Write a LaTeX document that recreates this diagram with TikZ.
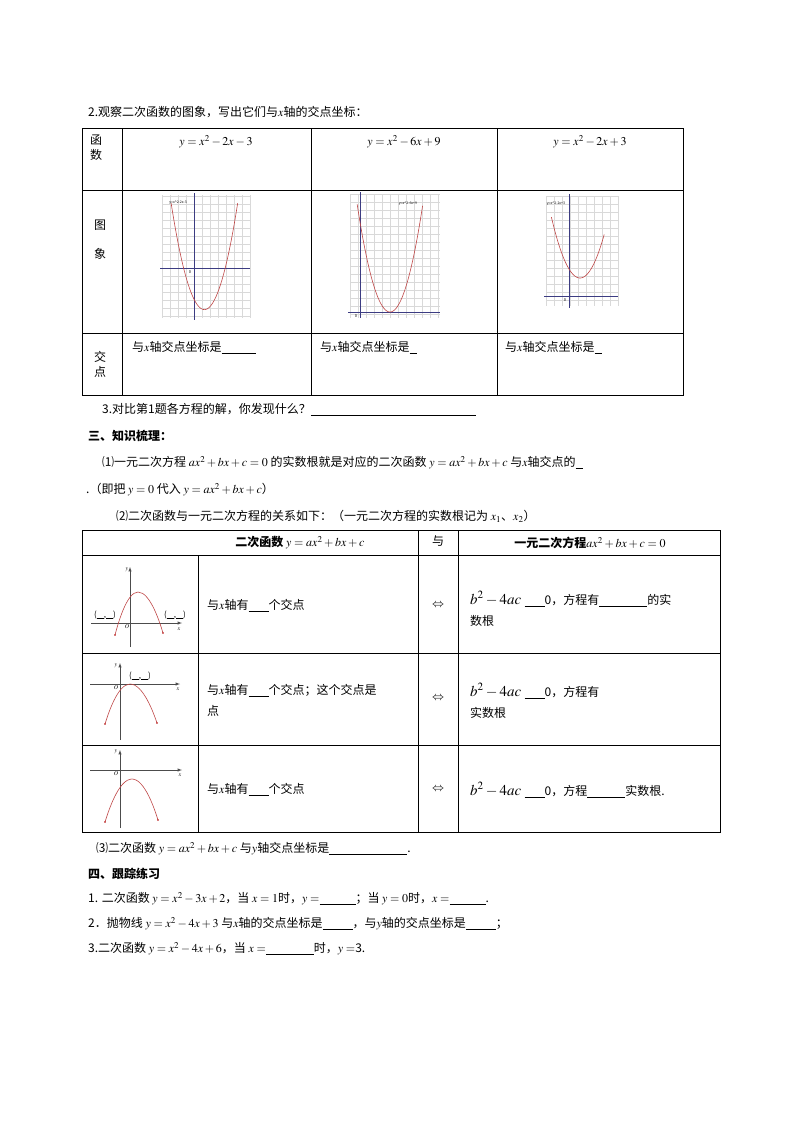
\documentclass[12pt,tikz,border=0pt]{standalone}
\usepackage{mathptmx}
\usepackage{fontspec}
\setmainfont{Noto Sans CJK SC}
\newcommand\blank[1]{\underline{\hspace{#1}}}
\newcommand\mygrid[3]{\foreach \gx in {#1} {\draw[gridl] (\gx,#2) -- (\gx,#3);}}
\newcommand\mygridh[3]{\foreach \gy in {#3} {\draw[gridl] (#1,\gy) -- (#2,\gy);}}
\begin{document}
\begin{tikzpicture}[x=1pt,y=-1pt,
  every node/.style={inner sep=0pt,font=\fontsize{12}{15}\selectfont},
  txt/.style={anchor=west},
  tb/.style={line width=0.8pt},
  pcurve/.style={draw={rgb,255:red,190;green,70;blue,70},line width=0.6pt},
  gridl/.style={draw=black!15,line width=0.3pt},
  ax/.style={draw={rgb,255:red,60;green,60;blue,130},line width=0.7pt},
  sax/.style={draw=black!70,line width=0.5pt,-latex}]
\useasboundingbox (0,0) rectangle (800,1130);
% ---- part 2
\node[txt] (t2) at (88,112) {2.观察二次函数的图象，写出它们与$x$轴的交点坐标：};
\draw[tb] (82,128) rectangle (683,395);
\draw[tb] (82,190) -- (683,190) (82,333) -- (683,333);
\draw[tb] (122,128) -- (122,395) (311,128) -- (311,395) (497,128) -- (497,395);
\node[align=center] (h1) at (96,148) {函\\数};
\node[align=center] (h2) at (100,240) {图\\[14pt]象};
\node[align=center] (h3) at (100,364) {交\\点};
\node (f1) at (216,142) {$y=x^2-2x-3$};
\node (f2) at (404,142) {$y=x^2-6x+9$};
\node (f3) at (590,142) {$y=x^2-2x+3$};
\node[txt] (r1) at (132,348) {与$x$轴交点坐标是\blank{34pt}};
\node[txt] (r2) at (320,348) {与$x$轴交点坐标是\blank{7pt}};
\node[txt] (r3) at (505,348) {与$x$轴交点坐标是\blank{7pt}};
% graph 1
\mygrid{162,170,...,250}{195}{318}
\mygridh{162}{250}{196,204,...,318}
\draw[ax] (160,268) -- (250,268) (194,193) -- (194,320);
\node[font=\fontsize{3.5}{4}\selectfont] (l1) at (178,203) {y=x\textasciicircum2-2x-3};
\node[font=\fontsize{4}{4}\selectfont] at (190,272) {0};
\draw[pcurve] plot[domain=-2.2:4.2,samples=60] ({194+10.4*\x},{268-10.4*((\x-1)^2-4)});
% graph 2
\mygrid{350,358,...,440}{194}{318}
\mygridh{350}{440}{194,202,...,318}
\draw[ax] (348,312) -- (440,312) (360,192) -- (360,318);
\node[font=\fontsize{3.5}{4}\selectfont] (l2) at (408,204) {y=x\textasciicircum2-6x+9};
\node[font=\fontsize{4}{4}\selectfont] at (356,316) {0};
\draw[pcurve] plot[domain=-0.28:6.26,samples=60] ({360+10*\x},{312-10*((\x-3)^2)});
% graph 3
\mygrid{546,554,...,618}{196}{306}
\mygridh{546}{618}{196,204,...,306}
\draw[ax] (544,296) -- (618,296) (569,194) -- (569,308);
\node[font=\fontsize{3.5}{4}\selectfont] (l3) at (556,204) {y=x\textasciicircum2-2x+3};
\node[font=\fontsize{4}{4}\selectfont] at (565,300) {0};
\draw[pcurve] plot[domain=-1.6:3.2,samples=60] ({569+11*\x},{296-9*((\x-1)^2+2)});
% ---- text
\node[txt] (q3) at (102,410) {3.对比第1题各方程的解，你发现什么？\blank{165pt}};
\node[txt,font=\fontsize{12}{15}\selectfont\bfseries] (s3) at (88,436) {三、知识梳理：};
\node[txt] (k1) at (102,463) {⑴一元二次方程 $ax^2+bx+c=0$ 的实数根就是对应的二次函数 $y=ax^2+bx+c$ 与$x$轴交点的\blank{7pt}};
\node[txt] (k1b) at (86,490) {.（即把 $y=0$ 代入 $y=ax^2+bx+c$）};
\node[txt] (k2) at (116,516) {⑵二次函数与一元二次方程的关系如下：（一元二次方程的实数根记为 $x_1$、$x_2$）};
% ---- table 2
\draw[tb] (82,530) rectangle (720,832);
\draw[tb] (82,555) -- (720,555) (82,653) -- (720,653) (82,745) -- (720,745);
\draw[tb] (198,555) -- (198,832) (418,530) -- (418,832) (458,530) -- (458,832);
\node (th1) at (300,543) {\textbf{二次函数} $y=ax^2+bx+c$};
\node (th2) at (438,541) {与};
\node (th3) at (590,543) {\textbf{一元二次方程}$ax^2+bx+c=0$};
% row 1
\draw[sax] (91,623) -- (182,623);
\draw[sax] (130,647) -- (130,567);
\draw[pcurve] (115,635) parabola bend (138,592) (163,633);
\fill[red!70!black] (115,635) circle (0.8) (163,633) circle (0.8);
\node[font=\tiny] at (127,570) {$y$};
\node[font=\tiny] at (179,629) {$x$};
\node[font=\tiny] at (127,627) {$O$};
\node[font=\scriptsize] (p1) at (105,615) {(\blank{7pt},\blank{7pt})};
\node[font=\scriptsize] (p2) at (175,615) {(\blank{7pt},\blank{7pt})};
\node[txt] (c1) at (207,606) {与$x$轴有\blank{20pt}个交点};
\node (e1) at (438,605) {$\Leftrightarrow$};
\node[txt] (d1) at (470,599) {\fontsize{15}{15}\selectfont$b^2-4ac$ \fontsize{12}{15}\selectfont\blank{20pt}0，方程有\blank{48pt}的实};
\node[txt] (d1b) at (470,621) {数根};
% row 2
\draw[sax] (90,684) -- (180,684);
\draw[sax] (120,740) -- (120,663);
\draw[pcurve] (105,724) parabola bend (130,684) (157,723);
\fill[red!70!black] (105,724) circle (0.8) (157,723) circle (0.8);
\node[font=\tiny] at (116,666) {$y$};
\node[font=\tiny] at (178,689) {$x$};
\node[font=\tiny] at (116,688) {$O$};
\node[font=\scriptsize] (p3) at (140,676) {(\blank{7pt},\blank{7pt})};
\node[txt] (c2) at (207,691) {与$x$轴有\blank{20pt}个交点；这个交点是};
\node[txt] (c2b) at (207,711) {点};
\node (e2) at (438,698) {$\Leftrightarrow$};
\node[txt] (d2) at (470,691) {\fontsize{15}{15}\selectfont$b^2-4ac$ \fontsize{12}{15}\selectfont\blank{20pt}0，方程有};
\node[txt] (d2b) at (470,713) {实数根};
% row 3
\draw[sax] (90,770) -- (182,770);
\draw[sax] (120,828) -- (120,750);
\draw[pcurve] (105,822) parabola bend (132,779) (158,820);
\fill[red!70!black] (105,822) circle (0.8) (158,820) circle (0.8);
\node[font=\tiny] at (116,752) {$y$};
\node[font=\tiny] at (180,775) {$x$};
\node[font=\tiny] at (116,774) {$O$};
\node[txt] (c3) at (207,790) {与$x$轴有\blank{20pt}个交点};
\node (e3) at (438,789) {$\Leftrightarrow$};
\node[txt] (d3) at (470,790) {\fontsize{15}{15}\selectfont$b^2-4ac$ \fontsize{12}{15}\selectfont\blank{20pt}0，方程\blank{38pt}实数根.};
% ---- rest
\node[txt] (k3) at (96,849) {⑶二次函数 $y=ax^2+bx+c$ 与$y$轴交点坐标是\blank{78pt}.};
\node[txt,font=\fontsize{12}{15}\selectfont\bfseries] (s4) at (88,874) {四、跟踪练习};
\node[txt] (x1) at (88,899) {1. 二次函数 $y=x^2-3x+2$，当 $x=1$时，$y=$\blank{36pt}；当 $y=0$时，$x=$\blank{36pt}.};
\node[txt] (x2) at (88,924) {2．抛物线 $y=x^2-4x+3$ 与$x$轴的交点坐标是\blank{30pt}，与$y$轴的交点坐标是\blank{30pt}；};
\node[txt] (x3) at (88,949) {3.二次函数 $y=x^2-4x+6$，当 $x=$\blank{48pt}时，$y=$3.};
\end{tikzpicture}
\end{document}
